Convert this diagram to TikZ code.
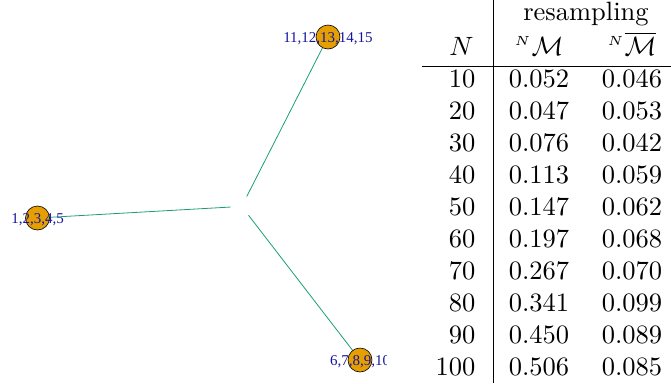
\documentclass[tikz,border=0pt]{standalone}
\usepackage{amsmath}
\usepackage{amssymb}
\usepackage{fontspec}
\newfontfamily\labelfont{Liberation Serif}
\usepackage{tikz}
\usetikzlibrary{backgrounds}
\definecolor{edgegreen}{RGB}{27,158,119}
\definecolor{leaforange}{RGB}{230,159,0}
\definecolor{labelblue}{RGB}{20,20,160}
\tikzset{leaf/.style={circle,draw=black,fill=leaforange,
                      minimum size=24pt,inner sep=0pt,line width=0.6pt}}
\tikzset{leaflabel/.style={text=labelblue,inner sep=0pt,anchor=base,
                           font=\labelfont\fontsize{15}{15}\selectfont}}
\tikzset{cell/.style={scale=2.65,transform shape,inner sep=0pt,anchor=base}}

\begin{document}
\begin{tikzpicture}[x=1pt,y=-1pt]
  \tikzstyle{hub}=[circle,minimum size=22pt,inner sep=0pt]
  \useasboundingbox (0,0) rectangle (671,383);

  % The tree: three leaves around a hidden hub, cut at the panel edge
  \begin{scope}
    \clip (0,0) rectangle (386,383);
    \node (hub) [hub] at (241.7,206.4) {};
    \node (l1) [leaf] at (37.5,218) {};
    \node (l2) [leaf] at (360,360) {};
    \node (l3) [leaf] at (328,37) {};
    \node (t1) [leaflabel] at ([yshift=-5pt]l1.center) {1,2,3,4,5};
    \node (t2) [leaflabel] at ([yshift=-5pt]l2.center) {6,7,8,9,10};
    \node (t3) [leaflabel] at ([yshift=-5pt]l3.center) {11,12,13,14,15};
    \begin{scope}[on background layer]
      \path[draw=edgegreen,line width=0.8pt]
        (hub) -- (l1.center)
        (hub) -- (l2.center)
        (hub) -- (l3.center);
    \end{scope}
  \end{scope}

  % The table: rules first, then header and rows
  \draw[line width=0.9pt] (493,0) -- (493,383);
  \draw[line width=0.9pt] (422,66) -- (671,66);
  \node (res) [cell] at (586,20) {resampling};
  \node (hN)  [cell,anchor=base east] at (474,55) {$N$};
  \node (hM)  [cell] at (539,55) {${}^{\scriptscriptstyle N}\mathcal{M}$};
  \node (hMb) [cell] at (632,55) {${}^{\scriptscriptstyle N}\overline{\mathcal{M}}$};
  \foreach \n/\a/\b [count=\i] in {10/0.052/0.046,20/0.047/0.053,30/0.076/0.042,
      40/0.113/0.059,50/0.147/0.062,60/0.197/0.068,70/0.267/0.070,
      80/0.341/0.099,90/0.450/0.089,100/0.506/0.085} {
    \node (n\i) [cell,anchor=base east] at (476,{87+32*(\i-1)}) {$\n$};
    \node (a\i) [cell] at (539,{87+32*(\i-1)}) {$\a$};
    \node (b\i) [cell] at (632,{87+32*(\i-1)}) {$\b$};
  }
\end{tikzpicture}
\end{document}
